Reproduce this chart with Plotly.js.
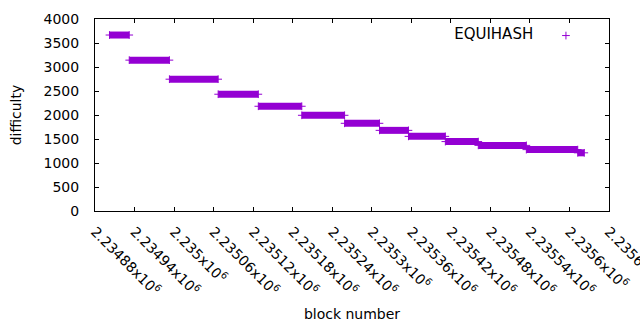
<!DOCTYPE html>
<html><head><meta charset="utf-8">
<script src="https://cdn.plot.ly/plotly-3.0.1.min.js"></script>
<style>html,body{margin:0;padding:0;background:#fff}</style>
</head><body>
<div id="chart" style="width:640px;height:330px"></div>
<script>
// Each run of blocks shares one difficulty value (start block, end block, difficulty)
const segStart   = [2234902, 2234932, 2234993, 2235067, 2235128, 2235194, 2235259, 2235312, 2235356, 2235412, 2235462, 2235535, 2235613];
const segEnd     = [2234932, 2234993, 2235067, 2235128, 2235194, 2235259, 2235312, 2235356, 2235412, 2235462, 2235535, 2235613, 2235623];
const difficulty = [3666, 3143, 2746, 2433, 2182, 1994, 1827, 1680, 1555, 1446, 1367, 1279, 1212];
const seriesName = 'EQUIHASH';
const xTickVals = [2234880, 2234940, 2235000, 2235060, 2235120, 2235180, 2235240, 2235300, 2235360, 2235420, 2235480, 2235540, 2235600, 2235660];
const xTickText = ['2.23488x10<sup>6</sup>', '2.23494x10<sup>6</sup>', '2.235x10<sup>6</sup>', '2.23506x10<sup>6</sup>', '2.23512x10<sup>6</sup>', '2.23518x10<sup>6</sup>', '2.23524x10<sup>6</sup>', '2.2353x10<sup>6</sup>', '2.23536x10<sup>6</sup>', '2.23542x10<sup>6</sup>', '2.23548x10<sup>6</sup>', '2.23554x10<sup>6</sup>', '2.2356x10<sup>6</sup>', '2.23566x10<sup>6</sup>'];
const yTickVals = [0, 500, 1000, 1500, 2000, 2500, 3000, 3500, 4000];

const purple = '#9400d3';
const lx = [], ly = [], px = [], py = [];
for (let i = 0; i < segStart.length; i++) {
  lx.push(segStart[i], segEnd[i], null);
  ly.push(difficulty[i], difficulty[i], null);
  px.push(segStart[i], segEnd[i]);
  py.push(difficulty[i], difficulty[i]);
}
const font = {family: 'DejaVu Sans', size: 14, color: '#000'};
const traces = [
  {x: lx, y: ly, type: 'scatter', mode: 'lines', line: {color: purple, width: 7}, showlegend: false, hoverinfo: 'skip'},
  {x: px, y: py, type: 'scatter', mode: 'markers', name: ' ',
   marker: {symbol: 'cross-thin-open', size: 5.5, color: purple, line: {color: purple, width: 1}}}
];
const layout = {
  width: 640, height: 330,
  margin: {l: 95, r: 31, t: 19, b: 119, pad: 0},
  paper_bgcolor: '#fff', plot_bgcolor: '#fff',
  font: font,
  showlegend: true,
  legend: {x: 0.975, y: 0.995, xanchor: 'right', yanchor: 'top', bgcolor: 'rgba(0,0,0,0)',
           title: {text: seriesName + '\u00a0', side: 'left', font: {family: 'DejaVu Sans', size: 15, color: '#000'}},
           font: font, itemwidth: 30},
  xaxis: {range: [2234880, 2235660.5], tickvals: xTickVals, ticktext: xTickText, tickangle: 45,
          ticklabeloverflow: 'allow',
          ticks: 'inside', ticklen: 4, tickcolor: '#000', showline: true, linecolor: '#000', linewidth: 1,
          mirror: 'ticks', showgrid: false, zeroline: false, ticklabelstandoff: 6,
          title: {text: 'block number', font: font, standoff: 11}},
  yaxis: {range: [0, 4000], tickvals: yTickVals, ticks: 'inside', ticklen: 4, tickcolor: '#000',
          showline: true, linecolor: '#000', linewidth: 1, mirror: 'ticks', showgrid: false, zeroline: false,
          ticklabelstandoff: 12,
          title: {text: 'difficulty', font: font, standoff: 18}}
};
Plotly.newPlot('chart', traces, layout, {displayModeBar: false, staticPlot: true});
</script>
</body></html>
